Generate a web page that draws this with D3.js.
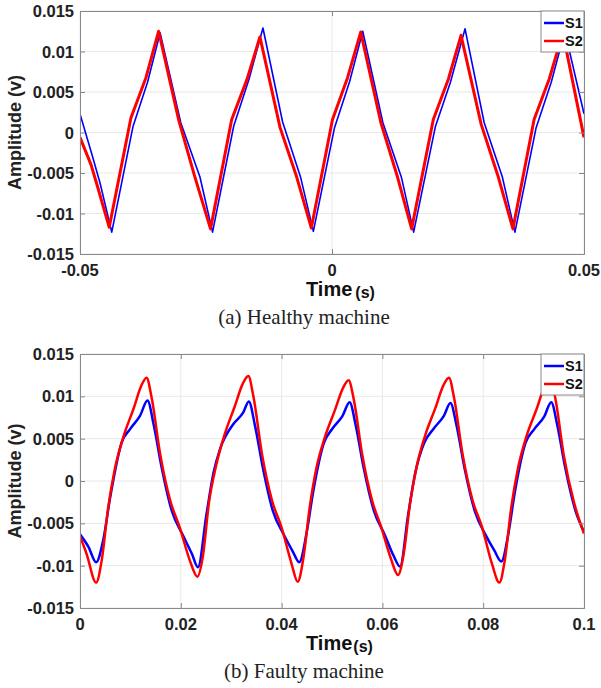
<!DOCTYPE html>
<html>
<head>
<meta charset="utf-8">
<script src="https://cdn.jsdelivr.net/npm/d3@7"></script>
<style>
  body { margin: 0; background: #fff; }
</style>
</head>
<body>
<script>
'use strict';

// ---- data ----
// (a) healthy machine, [time (s), amplitude (v)]
var healthyS1 = [
  [-0.05, 0.0023], [-0.0475, -0.0030], [-0.0460, -0.0063], [-0.0437, -0.0123],
  [-0.0395, 0.0007], [-0.0366, 0.0062], [-0.0341, 0.0123], [-0.0300, 0.0012],
  [-0.0262, -0.0055], [-0.0237, -0.0123], [-0.0195, 0.0008], [-0.0165, 0.0065],
  [-0.0137, 0.0129], [-0.0098, 0.0013], [-0.0062, -0.0056], [-0.0037, -0.0122],
  [0.0005, 0.0006], [0.0035, 0.0063], [0.0061, 0.0125], [0.0101, 0.0012],
  [0.0138, -0.0056], [0.0162, -0.0123], [0.0205, 0.0007], [0.0235, 0.0062],
  [0.0264, 0.0128], [0.0302, 0.0012], [0.0338, -0.0055], [0.0363, -0.0123],
  [0.0405, 0.0006], [0.0435, 0.0062], [0.0462, 0.0125], [0.0500, 0.0023]
];
var healthyS2 = [
  [-0.05, -0.0006], [-0.0478, -0.0040], [-0.0467, -0.0063], [-0.0442, -0.0117],
  [-0.0399, 0.0018], [-0.0369, 0.0068], [-0.0344, 0.0125], [-0.0304, 0.0015],
  [-0.0273, -0.0053], [-0.0241, -0.0119], [-0.0199, 0.0016], [-0.0169, 0.0065],
  [-0.0143, 0.0118], [-0.0103, 0.0006], [-0.0070, -0.0055], [-0.0041, -0.0118],
  [0.0001, 0.0016], [0.0031, 0.0068], [0.0057, 0.0124], [0.0097, 0.0012],
  [0.0130, -0.0055], [0.0158, -0.0119], [0.0201, 0.0016], [0.0231, 0.0066],
  [0.0256, 0.0120], [0.0296, 0.0010], [0.0330, -0.0055], [0.0359, -0.0119],
  [0.0401, 0.0016], [0.0431, 0.0066], [0.0458, 0.0123], [0.0500, -0.0006]
];

// (b) faulty machine
var faultyS1 = [
  [0, -0.0063], [0.0017, -0.0078], [0.0032, -0.0096], [0.0046, -0.0070], [0.0060, -0.0019],
  [0.0083, 0.0046], [0.0099, 0.0061], [0.0119, 0.0077], [0.0134, 0.0095], [0.0146, 0.0067],
  [0.0162, 0.0016], [0.0182, -0.0035], [0.0205, -0.0065], [0.0222, -0.0086],
  [0.0234, -0.0102], [0.0251, -0.0039], [0.0265, 0.0010], [0.0278, 0.0038], [0.0304, 0.0067],
  [0.0324, 0.0081], [0.0335, 0.0094], [0.0347, 0.0066], [0.0363, 0.0015], [0.0383, -0.0036],
  [0.0405, -0.0064], [0.0422, -0.0083],
  [0.0435, -0.0096], [0.0450, -0.0060], [0.0462, -0.0015], [0.0484, 0.0045], [0.0501, 0.0062],
  [0.0521, 0.0077], [0.0535, 0.0093], [0.0547, 0.0066], [0.0563, 0.0015], [0.0583, -0.0035],
  [0.0605, -0.0064], [0.0622, -0.0088],
  [0.0635, -0.0101], [0.0651, -0.0040], [0.0665, 0.0009], [0.0683, 0.0045], [0.0702, 0.0062],
  [0.0722, 0.0077], [0.0735, 0.0092], [0.0747, 0.0066], [0.0763, 0.0015], [0.0783, -0.0035],
  [0.0805, -0.0064], [0.0822, -0.0082],
  [0.0836, -0.0095], [0.0850, -0.0062], [0.0862, -0.0016], [0.0884, 0.0045], [0.0901, 0.0061],
  [0.0921, 0.0076], [0.0935, 0.0093], [0.0947, 0.0066], [0.0963, 0.0015], [0.0983, -0.0035],
  [0.1000, -0.0060]
];
var faultyS2 = [
  [0, -0.0065], [0.0013, -0.0086], [0.0032, -0.0120], [0.0043, -0.0094], [0.0056, -0.0031],
  [0.0069, 0.0014], [0.0086, 0.0052], [0.0106, 0.0085], [0.0122, 0.0113], [0.0132, 0.0122],
  [0.0142, 0.0099], [0.0159, 0.0032], [0.0179, -0.0023], [0.0198, -0.0055], [0.0218, -0.0094],
  [0.0233, -0.0113], [0.0244, -0.0088], [0.0256, -0.0025], [0.0270, 0.0018], [0.0287, 0.0055],
  [0.0307, 0.0088], [0.0323, 0.0115], [0.0334, 0.0124], [0.0344, 0.0100], [0.0361, 0.0032],
  [0.0381, -0.0023], [0.0400, -0.0055], [0.0419, -0.0096],
  [0.0432, -0.0119], [0.0443, -0.0092], [0.0456, -0.0030], [0.0469, 0.0015], [0.0486, 0.0052],
  [0.0506, 0.0084], [0.0522, 0.0110], [0.0533, 0.0119], [0.0543, 0.0097], [0.0560, 0.0031],
  [0.0580, -0.0024], [0.0598, -0.0055], [0.0617, -0.0092],
  [0.0631, -0.0111], [0.0642, -0.0087], [0.0655, -0.0026], [0.0668, 0.0017], [0.0685, 0.0054],
  [0.0705, 0.0086], [0.0721, 0.0113], [0.0732, 0.0122], [0.0742, 0.0099], [0.0759, 0.0032],
  [0.0779, -0.0023], [0.0798, -0.0055], [0.0817, -0.0097],
  [0.0832, -0.0120], [0.0843, -0.0093], [0.0856, -0.0030], [0.0869, 0.0015], [0.0886, 0.0053],
  [0.0906, 0.0085], [0.0922, 0.0112], [0.0933, 0.0121], [0.0943, 0.0098], [0.0960, 0.0030],
  [0.0980, -0.0025], [0.1000, -0.0062]
];

var yTicks = [-0.015, -0.01, -0.005, 0, 0.005, 0.01, 0.015];
var yTickLabels = ["-0.015", "-0.01", "-0.005", "0", "0.005", "0.01", "0.015"];
var healthyXTicks = [-0.05, 0, 0.05];
var healthyXLabels = ["-0.05", "0", "0.05"];
var faultyXTicks = [0, 0.02, 0.04, 0.06, 0.08, 0.1];
var faultyXLabels = ["0", "0.02", "0.04", "0.06", "0.08", "0.1"];
var seriesNames = ["S1", "S2"];
var captions = ["(a) Healthy machine", "(b) Faulty machine"];

(function() {

  var width = 601, height = 688;
  var sans = "'Liberation Sans', Arial, sans-serif";
  var serif = "'Liberation Serif', 'Times New Roman', serif";

  var svg = d3.select("body")
    .append("svg")
    .attr("width", width)
    .attr("height", height)
    .style("font-family", sans);

  function drawPanel(p) {
    var left = 80, right = 584;
    var x = d3.scaleLinear().domain(p.xDomain).range([left, right]);
    var y = d3.scaleLinear().domain([-0.015, 0.015]).range([p.bottom, p.top]);

    var g = svg.append("g");

    // grid
    g.selectAll(".hgrid").data(yTicks).enter().append("line")
      .attr("x1", left).attr("x2", right)
      .attr("y1", function(d) { return y(d); })
      .attr("y2", function(d) { return y(d); })
      .attr("stroke", "#e8e8e8").attr("stroke-width", 1);
    g.selectAll(".vgrid").data(p.xTicks).enter().append("line")
      .attr("y1", p.top).attr("y2", p.bottom)
      .attr("x1", function(d) { return x(d); })
      .attr("x2", function(d) { return x(d); })
      .attr("stroke", "#e8e8e8").attr("stroke-width", 1);

    // lines
    var clipId = "clip" + p.id;
    svg.append("clipPath").attr("id", clipId)
      .append("rect")
      .attr("x", left).attr("y", p.top)
      .attr("width", right - left).attr("height", p.bottom - p.top);

    var line = d3.line()
      .x(function(d) { return x(d[0]); })
      .y(function(d) { return y(d[1]); })
      .curve(p.curve);

    var lines = g.append("g").attr("clip-path", "url(#" + clipId + ")");
    lines.append("path").datum(p.s1)
      .attr("d", line).attr("fill", "none")
      .attr("stroke", "#0000ff").attr("stroke-width", p.w1)
      .attr("stroke-linejoin", "round");
    lines.append("path").datum(p.s2)
      .attr("d", line).attr("fill", "none")
      .attr("stroke", "#ff0000").attr("stroke-width", p.w2)
      .attr("stroke-linejoin", "round");

    // axes box with inward ticks (matlab style)
    var axL = d3.axisRight(y).tickValues(yTicks).tickSize(5).tickFormat("");
    var axR = d3.axisLeft(y).tickValues(yTicks).tickSize(5).tickFormat("");
    var axB = d3.axisTop(x).tickValues(p.xTicks).tickSize(5).tickFormat("");
    var axT = d3.axisBottom(x).tickValues(p.xTicks).tickSize(5).tickFormat("");
    [[axL, left, 0], [axR, right, 0], [axB, 0, p.bottom], [axT, 0, p.top]].forEach(function(a) {
      var ag = g.append("g").attr("transform", "translate(" + a[1] + "," + a[2] + ")").call(a[0]);
      ag.selectAll("path, line").attr("stroke", "#888");
    });

    // tick labels
    g.selectAll(".ylab").data(yTicks).enter().append("text")
      .attr("x", left - 6)
      .attr("y", function(d) { return y(d) + 6; })
      .attr("text-anchor", "end")
      .attr("font-size", 16.5).attr("font-weight", "bold")
      .attr("fill", "#222")
      .text(function(d, i) { return yTickLabels[i]; });
    g.selectAll(".xlab").data(p.xTicks).enter().append("text")
      .attr("x", function(d) { return x(d); })
      .attr("y", p.bottom + 22)
      .attr("text-anchor", "middle")
      .attr("font-size", 16.5).attr("font-weight", "bold")
      .attr("fill", "#222")
      .text(function(d, i) { return p.xLabels[i]; });

    // axis titles
    var xt = g.append("text")
      .attr("x", 306).attr("y", p.bottom + 42)
      .attr("font-weight", "bold").attr("fill", "#111");
    xt.append("tspan").attr("font-size", 20).text("Time");
    xt.append("tspan").attr("font-size", 16).attr("dx", p.gap).attr("dy", 2).text("(s)");

    g.append("text")
      .attr("transform", "translate(21," + ((p.top + p.bottom) / 2) + ") rotate(-90)")
      .attr("text-anchor", "middle")
      .attr("font-size", 18).attr("font-weight", "bold").attr("fill", "#222")
      .text("Amplitude (v)");

    // caption
    g.append("text")
      .attr("x", 304).attr("y", p.bottom + 70)
      .attr("text-anchor", "middle")
      .style("font-family", serif)
      .attr("font-size", 21).attr("fill", "#222")
      .text(p.caption);

    // legend
    var lg = g.append("g");
    lg.append("rect")
      .attr("x", 541).attr("y", p.top).attr("width", 43).attr("height", 41)
      .attr("fill", "#fff").attr("stroke", "#888").attr("stroke-width", 1);
    [["#0000ff", 12], ["#ff0000", 30]].forEach(function(c, i) {
      lg.append("line")
        .attr("x1", 544).attr("x2", 564)
        .attr("y1", p.top + c[1]).attr("y2", p.top + c[1])
        .attr("stroke", c[0]).attr("stroke-width", 2.5);
      lg.append("text")
        .attr("x", 565).attr("y", p.top + c[1] + 5)
        .attr("font-size", 14.5).attr("font-weight", "bold").attr("fill", "#111")
        .text(seriesNames[i]);
    });
  }

  drawPanel({
    id: "a", top: 11, bottom: 254,
    xDomain: [-0.05, 0.05], xTicks: healthyXTicks, xLabels: healthyXLabels,
    s1: healthyS1, s2: healthyS2, w1: 1.6, w2: 3,
    curve: d3.curveLinear, caption: captions[0], gap: 3
  });

  drawPanel({
    id: "b", top: 354, bottom: 608,
    xDomain: [0, 0.1], xTicks: faultyXTicks, xLabels: faultyXLabels,
    s1: faultyS1, s2: faultyS2, w1: 2.5, w2: 2.5,
    curve: d3.curveMonotoneX, caption: captions[1], gap: 1
  });

})();
</script>
</body>
</html>
